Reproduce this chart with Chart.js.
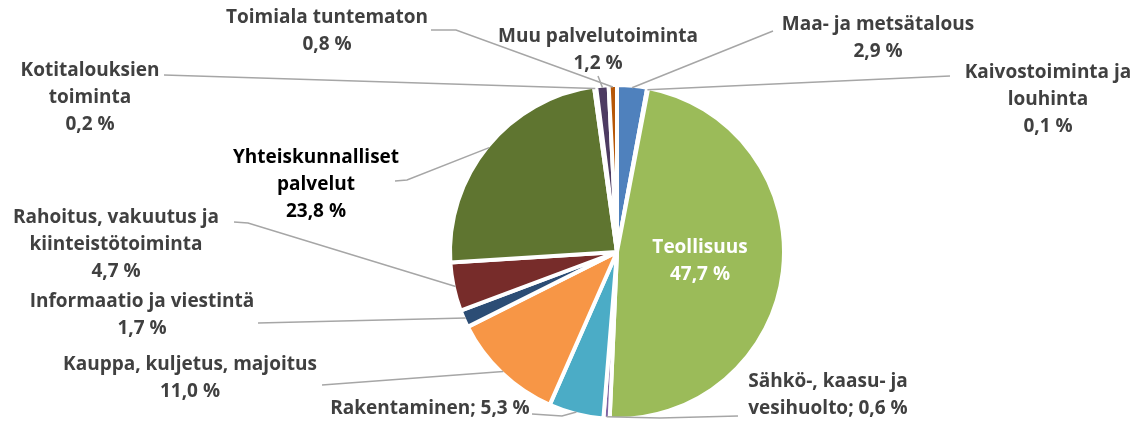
<!DOCTYPE html>
<html>
<head>
<meta charset="utf-8">
<script src="https://cdn.jsdelivr.net/npm/chart.js@4/dist/chart.umd.min.js"></script>
<style>
  html, body { margin: 0; padding: 0; background: #fff; }
  #wrap { width: 1143px; height: 421px; position: relative; }
</style>
</head>
<body>
<div id="wrap"><canvas id="c" width="1143" height="421"></canvas></div>
<script>
const toimialat = [
  'Maa- ja metsätalous', 'Kaivostoiminta ja louhinta', 'Teollisuus',
  'Sähkö-, kaasu- ja vesihuolto', 'Rakentaminen', 'Kauppa, kuljetus, majoitus',
  'Informaatio ja viestintä', 'Rahoitus, vakuutus ja kiinteistötoiminta',
  'Yhteiskunnalliset palvelut', 'Kotitalouksien toiminta',
  'Muu palvelutoiminta', 'Toimiala tuntematon'
];
const osuudet = [2.9, 0.1, 47.7, 0.6, 5.3, 11.0, 1.7, 4.7, 23.8, 0.2, 1.2, 0.8];
const varit = ['#4F81BD', '#C0504D', '#9BBB59', '#8064A2', '#4BACC6', '#F79646',
  '#2C4D75', '#772C2A', '#5F7530', '#276A7C', '#4D3B62', '#B65708'];

// label text rows per slice (value text is formatted from osuudet)
const rivit = [
  ['Maa- ja metsätalous'], ['Kaivostoiminta ja', 'louhinta'], ['Teollisuus'],
  ['Sähkö-, kaasu- ja', 'vesihuolto; '], ['Rakentaminen; '], ['Kauppa, kuljetus, majoitus'],
  ['Informaatio ja viestintä'], ['Rahoitus, vakuutus ja', 'kiinteistötoiminta'],
  ['Yhteiskunnalliset', 'palvelut'], ['Kotitalouksien', 'toiminta'],
  ['Muu palvelutoiminta'], ['Toimiala tuntematon']
];

const pros = v => v.toFixed(1).replace('.', ',') + ' %';

// label layout: centre of first row, leader line start points
const sijoittelu = [
  { x: 878, y: 25, viiva: [[773, 31]] },
  { x: 1048, y: 73, viiva: [[950, 76]] },
  { x: 700, y: 248, sisalla: true },
  { x: 828, y: 382, viiva: [[738, 416], [660, 418]] },
  { x: 430, y: 409, samalla: true, viiva: [[532, 414], [562, 416]] },
  { x: 190, y: 365, viiva: [[322, 385]] },
  { x: 142, y: 302, viiva: [[258, 323]] },
  { x: 116, y: 218, viiva: [[234, 222], [248, 223]] },
  { x: 316, y: 158, musta: true, viiva: [[395, 181], [407, 180]] },
  { x: 90, y: 71, viiva: [[164, 75]] },
  { x: 598, y: 37, viiva: [[598, 76]] },
  { x: 327, y: 18, viiva: [[431, 30], [456, 30]] }
];

const tarrat = {
  id: 'tarrat',
  afterDatasetsDraw(chart) {
    const ctx = chart.ctx;
    const arcs = chart.getDatasetMeta(0).data;
    ctx.save();
    ctx.font = '700 19px "Open Sans"';
    ctx.textAlign = 'center';
    ctx.textBaseline = 'middle';
    arcs.forEach((arc, i) => {
      const s = sijoittelu[i];
      if (s.viiva) {
        const p = arc.getProps(['x', 'y', 'startAngle', 'endAngle', 'outerRadius'], true);
        const a = (p.startAngle + p.endAngle) / 2;
        const ex = p.x + Math.cos(a) * (p.outerRadius - 2);
        const ey = p.y + Math.sin(a) * (p.outerRadius - 2);
        ctx.strokeStyle = '#A6A6A6';
        ctx.lineWidth = 1.5;
        ctx.beginPath();
        ctx.moveTo(s.viiva[0][0], s.viiva[0][1]);
        s.viiva.slice(1).forEach(q => ctx.lineTo(q[0], q[1]));
        ctx.lineTo(ex, ey);
        ctx.stroke();
      }
      const t = rivit[i].slice();
      if (s.samalla || i === 3) t[t.length - 1] += pros(osuudet[i]);
      else t.push(pros(osuudet[i]));
      ctx.fillStyle = s.sisalla ? '#ffffff' : (s.musta ? '#000000' : '#404040');
      t.forEach((r, k) => ctx.fillText(r, s.x, s.y + k * 27));
    });
    ctx.restore();
  }
};

new Chart(document.getElementById('c'), {
  type: 'pie',
  data: {
    labels: toimialat,
    datasets: [{
      data: osuudet,
      backgroundColor: varit,
      borderColor: '#ffffff',
      borderWidth: 4
    }]
  },
  options: {
    responsive: false,
    animation: false,
    layout: { padding: { top: 83, bottom: 0, left: 91, right: 0 } },
    plugins: { legend: { display: false }, tooltip: { enabled: false } }
  },
  plugins: [tarrat]
});
</script>
</body>
</html>
